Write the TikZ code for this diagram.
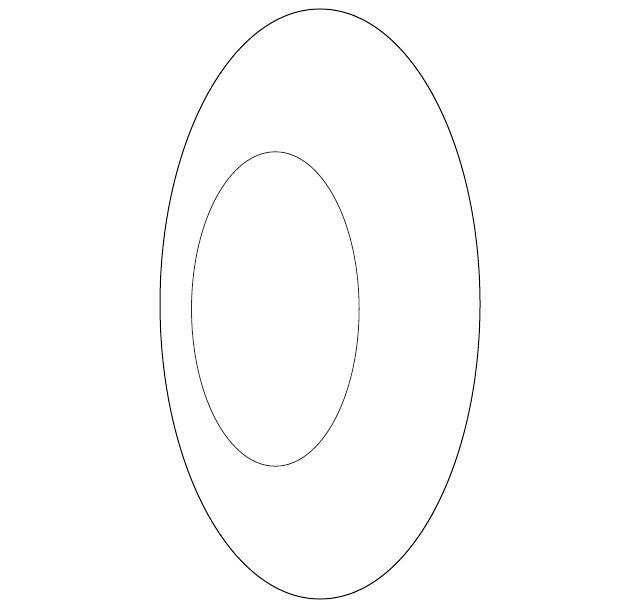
\documentclass[tikz,border=0pt]{standalone}
\usepackage{tikz}

\begin{document}
\begin{tikzpicture}[x=0.5pt, y=-0.5pt]
                % Marco
                \useasboundingbox (0,0) rectangle (640,608);
                % Elipse exterior
                \draw[line width=0.5pt, black] (320,304) ellipse (160 and 295);
                % Elipse interior
                \draw[line width=0.4pt, black!85] (275.3,309) ellipse (83.8 and 157.2);
            \end{tikzpicture}
\end{document}
